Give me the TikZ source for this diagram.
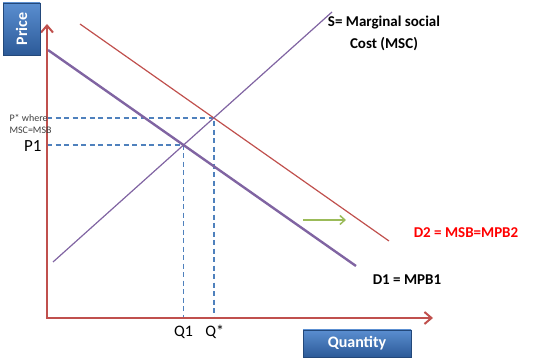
\documentclass[tikz,border=0pt]{standalone}
\usepackage{fontspec}
\setmainfont{Carlito}
\usetikzlibrary{arrows.meta}
\definecolor{axisred}{HTML}{C0504D}
\definecolor{curvepurple}{HTML}{8064A2}
\definecolor{guideblue}{HTML}{4F81BD}
\definecolor{shiftgreen}{HTML}{9BBB59}
\definecolor{boxtop}{HTML}{5A8ED0}
\definecolor{boxbottom}{HTML}{2C5A98}

\tikzset{
axisline/.style={axisred, line width=2.4pt, -{Straight Barb[length=7pt,width=12pt,line width=2pt]}},
guideline/.style={draw=guideblue, line width=1.5pt, dash pattern=on 5pt off 3.5pt},
titlebox/.style={draw=boxbottom!80!black, top color=boxtop, bottom color=boxbottom, text=white, font=\fontsize{16}{16}\selectfont\bfseries, inner sep=0pt}
}

\begin{document}
\begin{tikzpicture}[x=1pt,y=-1pt]
\useasboundingbox (0,0) rectangle (550,363);

% end points of the curves
\coordinate (origin) at (47,318);
\coordinate (ytop) at (47,24);
\coordinate (xend) at (433,318);
\coordinate (d1start) at (48,50);
\coordinate (d1end) at (356,266);
\coordinate (d2start) at (80,24);
\coordinate (d2end) at (389,241);
\coordinate (sstart) at (53,262);
\coordinate (send) at (332,12);
\coordinate (eqone) at (intersection of d1start--d1end and sstart--send);
\coordinate (eqstar) at (intersection of d2start--d2end and sstart--send);

% guides
\draw[guideline] (origin |- eqone) -- (eqone) -- (eqone |- origin);
\draw[guideline] (origin |- eqstar) -- (eqstar) -- (eqstar |- origin);

% curves
\draw[axisred, line width=1.2pt] (d2start) -- (d2end);
\draw[curvepurple, line width=1.2pt] (sstart) -- (send);
\draw[curvepurple, line width=2.4pt] (d1start) -- (d1end);

% axes
\draw[axisline] (origin) -- (ytop);
\draw[axisline] ([xshift=-1.2pt]origin) -- (xend);

% shift of demand
\coordinate (shiftfrom) at (303,220);
\coordinate (shiftto) at (346,220);
\draw[shiftgreen, line width=1.8pt, -{Straight Barb[length=5pt,width=9pt,line width=1.5pt]}] (shiftfrom) -- (shiftto);

% labellings
{
\node[titlebox, rotate=90, minimum width=52pt, minimum height=37pt] (pricebox) at (21.5,29) {Price};
\node[titlebox, minimum width=108pt, minimum height=27pt] (qtybox) at (357,343.5) {Quantity};

\node[anchor=west, align=left, font=\fontsize{10}{12}\selectfont, text=black!75] (pstar) at (6,124) {P* where\\MSC=MSB};
\node[anchor=east, font=\fontsize{17}{17}\selectfont] (pone) at (45,146) {P1};

\node[font=\fontsize{16}{16}\selectfont] (qone) at (eqone |- 0,332) {Q1};
\node[font=\fontsize{16}{16}\selectfont] (qstar) at ([xshift=1pt]eqstar |- 0,332) {Q*};

\node[align=center, font=\fontsize{15}{22}\selectfont\bfseries] (slabel) at (384,33) {S= Marginal social\\Cost (MSC)};
\node[font=\fontsize{15}{15}\selectfont\bfseries, text=red] (dtwolabel) at (466,233) {D2 = MSB=MPB2};
\node[font=\fontsize{15}{15}\selectfont\bfseries] (donelabel) at (407,280) {D1 = MPB1};
}

\end{tikzpicture}
\end{document}
